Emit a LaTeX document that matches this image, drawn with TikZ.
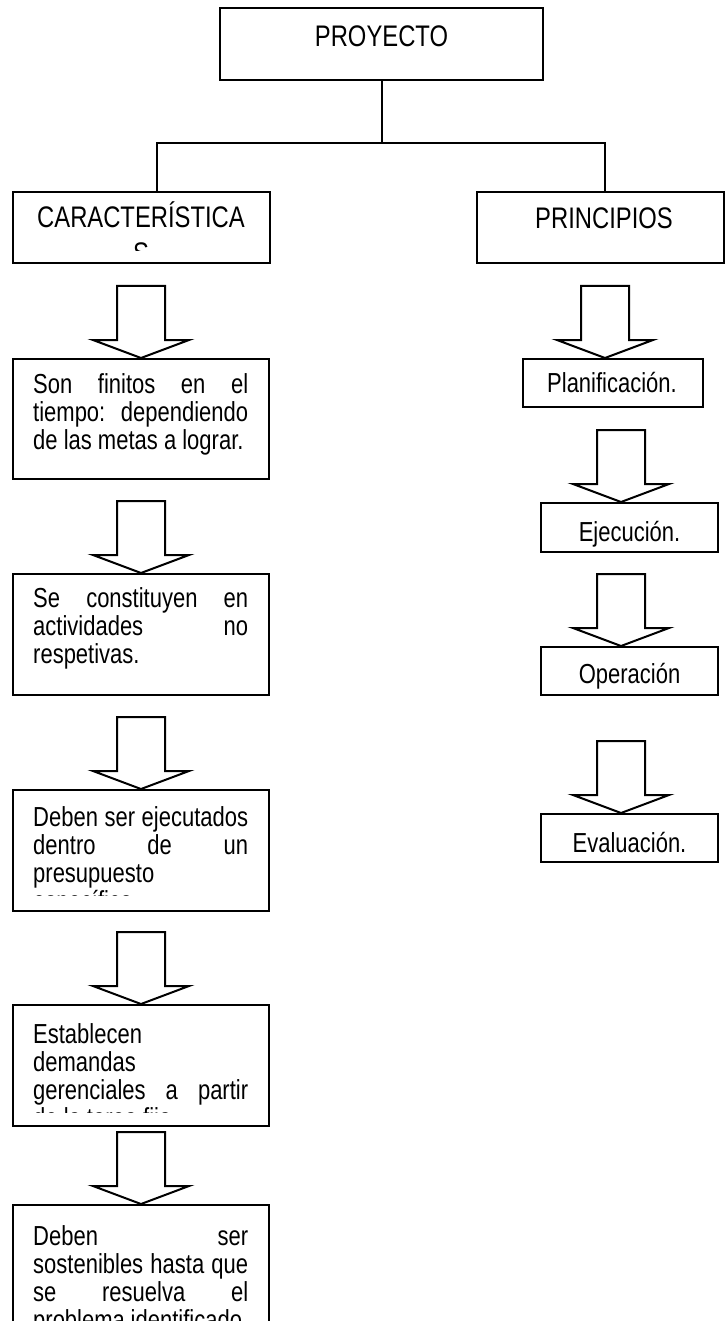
\documentclass[tikz,border=0pt]{standalone}
\usepackage{fontspec}
\setmainfont{Liberation Sans}[FakeStretch=0.8]
\newcommand\JL[1]{\hbox to 215pt{#1}}
\newcommand\LL[1]{\hbox to 215pt{#1\hfil}}
\newcommand\BT[1]{\vtop{\baselineskip=28pt\lineskiplimit=-100pt\lineskip=0pt #1}}
\begin{document}
\begin{tikzpicture}[x=1pt,y=1pt,
  box/.style={draw, line width=2pt, rectangle, inner sep=0pt},
  blk/.style={draw, line width=2pt, line join=miter, fill=white},
  conn/.style={line width=2pt},
  hd/.style={anchor=base, inner sep=0pt, font=\fontsize{29.75}{34}\selectfont},
  sm/.style={anchor=base, inner sep=0pt, font=\fontsize{27.5}{32}\selectfont},
  body/.style={anchor=base west, inner sep=0pt, font=\fontsize{27.5}{28}\selectfont},
  downarrow/.pic={\draw[blk] (-24,72) -- (24,72) -- (24,18) -- (48,18) -- (0,0) -- (-48,18) -- (-24,18) -- cycle;}
]
\clip (0,0) rectangle (726,-1321);
\fill[white] (0,0) rectangle (726,-1321);

% boxes
\node[box, minimum width=323pt, minimum height=72pt] (proy) at (381.5,-44) {};
\node[box, minimum width=257pt, minimum height=71pt] (car) at (141.5,-227.5) {};
\node[box, minimum width=247pt, minimum height=71pt] (pri) at (600.5,-227.5) {};
\node[box, minimum width=256pt, minimum height=120pt] (b1) at (141,-419) {};
\node[box, minimum width=256pt, minimum height=121pt] (b2) at (141,-634.5) {};
\node[box, minimum width=256pt, minimum height=121pt] (b3) at (141,-850.5) {};
\node[box, minimum width=256pt, minimum height=121pt] (b4) at (141,-1065.5) {};
\node[box, minimum width=256pt, minimum height=195pt] (b5) at (141,-1302.5) {};
\node[box, minimum width=180pt, minimum height=48pt] (p1) at (613,-383) {};
\node[box, minimum width=177pt, minimum height=49pt] (p2) at (629.5,-527.5) {};
\node[box, minimum width=177pt, minimum height=48pt] (p3) at (629.5,-671) {};
\node[box, minimum width=177pt, minimum height=48pt] (p4) at (629.5,-838) {};

% tree connectors
\coordinate (jm) at (381.5,-143);
\coordinate (jl) at (157,-143);
\coordinate (jr) at (605,-143);
\draw[conn] (proy.south) -- (jm);
\draw[conn] (jl |- car.north) -- (jl) -- (jr) -- (jr |- pri.north);

% block arrows
\pic at (b1.north) {downarrow};
\pic at (b2.north) {downarrow};
\pic at (b3.north) {downarrow};
\pic at (b4.north) {downarrow};
\pic at (b5.north) {downarrow};
\pic at ([xshift=-8pt]p1.north) {downarrow};
\pic at ([xshift=-8.5pt]p2.north) {downarrow};
\pic at ([xshift=-8.5pt]p3.north) {downarrow};
\pic at ([xshift=-8.5pt]p4.north) {downarrow};

% headings
\node[hd] (tproy) at (381.5,-47) {PROYECTO};
\begin{scope}
  \clip (car.north west) rectangle ([yshift=13pt]car.south east);
  \node[hd] (tcar1) at (141,-228) {CARACTERÍSTICA};
  \node[hd] (tcar2) at (141,-264) {S};
\end{scope}
\node[hd] (tpri) at (604,-229) {PRINCIPIOS};

% body texts
\begin{scope}
  \clip (b1.north west) rectangle ([yshift=12pt]b1.south east);
  \node[body] (tb1) at (33,-393) {\BT{%
    \JL{Son\hfill finitos\hfill en\hfill el}%
    \JL{tiempo:\hfill dependiendo}%
    \LL{de las metas a lograr.}}};
\end{scope}
\begin{scope}
  \clip (b2.north west) rectangle ([yshift=12pt]b2.south east);
  \node[body] (tb2) at (33,-607) {\BT{%
    \JL{Se\hfill constituyen\hfill en}%
    \JL{actividades\hfill no}%
    \LL{respetivas.}}};
\end{scope}
\begin{scope}
  \clip (b3.north west) rectangle ([yshift=17pt]b3.south east);
  \node[body] (tb3) at (33,-826) {\BT{%
    \JL{Deben\hfill ser\hfill ejecutados}%
    \JL{dentro\hfill de\hfill un}%
    \LL{presupuesto}%
    \LL{específico.}}};
\end{scope}
\begin{scope}
  \clip (b4.north west) rectangle ([yshift=15pt]b4.south east);
  \node[body] (tb4) at (33,-1043) {\BT{%
    \LL{Establecen}%
    \LL{demandas}%
    \JL{gerenciales\hfill a\hfill partir}%
    \LL{de la tarea fija.}}};
\end{scope}
\begin{scope}
  \clip (b5.north west) rectangle ([yshift=12pt]b5.south east);
  \node[body] (tb5) at (33,-1245) {\BT{%
    \JL{Deben\hfill ser}%
    \JL{sostenibles\hfill hasta\hfill que}%
    \JL{se\hfill resuelva\hfill el}%
    \LL{problema identificado.}}};
\end{scope}

% right column texts
\node[sm] (tp1) at (612,-392) {Planificación.};
\node[sm] (tp2) at (629.5,-541) {Ejecución.};
\node[sm] (tp3) at (629.5,-683) {Operación};
\node[sm] (tp4) at (629.5,-852) {Evaluación.};
\end{tikzpicture}
\end{document}
